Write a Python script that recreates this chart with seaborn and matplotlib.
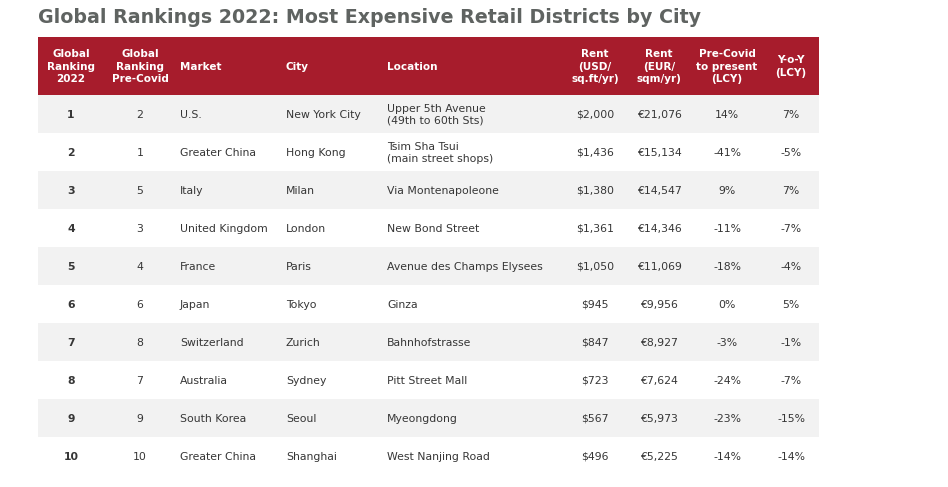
import matplotlib
matplotlib.use("Agg")
import matplotlib.pyplot as plt
from matplotlib.colors import ListedColormap
from matplotlib.patches import Rectangle
import numpy as np
import pandas as pd
import seaborn as sns

title = "Global Rankings 2022: Most Expensive Retail Districts by City"
headers = ["Global\nRanking\n2022", "Global\nRanking\nPre-Covid", "Market", "City", "Location",
           "Rent\n(USD/\nsq.ft/yr)", "Rent\n(EUR/\nsqm/yr)", "Pre-Covid\nto present\n(LCY)", "Y-o-Y\n(LCY)"]
rank_2022 = ["1", "2", "3", "4", "5", "6", "7", "8", "9", "10"]
rank_precovid = ["2", "1", "5", "3", "4", "6", "8", "7", "9", "10"]
markets = ["U.S.", "Greater China", "Italy", "United Kingdom", "France", "Japan",
           "Switzerland", "Australia", "South Korea", "Greater China"]
cities = ["New York City", "Hong Kong", "Milan", "London", "Paris", "Tokyo",
          "Zurich", "Sydney", "Seoul", "Shanghai"]
locations = ["Upper 5th Avenue\n(49th to 60th Sts)", "Tsim Sha Tsui\n(main street shops)",
             "Via Montenapoleone", "New Bond Street", "Avenue des Champs Elysees", "Ginza",
             "Bahnhofstrasse", "Pitt Street Mall", "Myeongdong", "West Nanjing Road"]
rent_usd = ["$2,000", "$1,436", "$1,380", "$1,361", "$1,050", "$945", "$847", "$723", "$567", "$496"]
rent_eur = ["€21,076", "€15,134", "€14,547", "€14,346", "€11,069", "€9,956", "€8,927",
            "€7,624", "€5,973", "€5,225"]
pre_covid = ["14%", "-41%", "9%", "-11%", "-18%", "0%", "-3%", "-24%", "-23%", "-14%"]
yoy = ["7%", "-5%", "7%", "-7%", "-4%", "5%", "-1%", "-7%", "-15%", "-14%"]

columns = [rank_2022, rank_precovid, markets, cities, locations, rent_usd, rent_eur, pre_covid, yoy]

sns.set_theme(style="white")
plt.rcParams['font.family'] = ['DejaVu Sans']

W, H = 948, 487
fig = plt.figure(figsize=(W / 100, H / 100), dpi=100)
fig.patch.set_facecolor("white")

RED = "#a71c2c"
GRAY = "#f2f2f2"
TXT = "#363636"
TITLE = "#5f6361"

left, right = 38, 819
head_top, head_bot = 37, 95
row_h = 38
n = len(rank_2022)

# Body stripes via seaborn heatmap
body_ax = fig.add_axes([left / W, 1 - (head_bot + n * row_h) / H, (right - left) / W, n * row_h / H])
stripes = pd.DataFrame({"bg": [i % 2 for i in range(n)]})
sns.heatmap(stripes, ax=body_ax, cmap=ListedColormap([GRAY, "white"]), cbar=False,
            xticklabels=False, yticklabels=False, vmin=0, vmax=1)
body_ax.set_axis_off()

# Overlay in pixel coordinates
ax = fig.add_axes([0, 0, 1, 1])
ax.set_xlim(0, W)
ax.set_ylim(H, 0)
ax.set_axis_off()
ax.patch.set_alpha(0)

ax.add_patch(Rectangle((left, head_top), right - left, head_bot - head_top, color=RED, lw=0))

ax.text(left, 17.5, title, fontsize=13.7, fontweight="bold", color=TITLE, ha="left", va="center")

col_x = [71, 140, 180, 286, 387, 595, 659, 727, 791]
col_ha = ["center", "center", "left", "left", "left", "center", "center", "center", "center"]

head_y = (head_top + head_bot) / 2 + 0.5
for x, ha, h in zip(col_x, col_ha, headers):
    ax.text(x, head_y, h, fontsize=7.5, fontweight="bold", color="white", ha=ha, va="center",
            multialignment="center", linespacing=1.27)

for ci, (x, ha, col) in enumerate(zip(col_x, col_ha, columns)):
    for ri, val in enumerate(col):
        y = head_bot + ri * row_h + row_h / 2 + 0.7
        ax.text(x, y, val, fontsize=7.8, color=TXT, ha=ha, va="center",
                fontweight="bold" if ci == 0 else "normal", linespacing=1.2)

fig.savefig("out.png", dpi=100, facecolor="white")
